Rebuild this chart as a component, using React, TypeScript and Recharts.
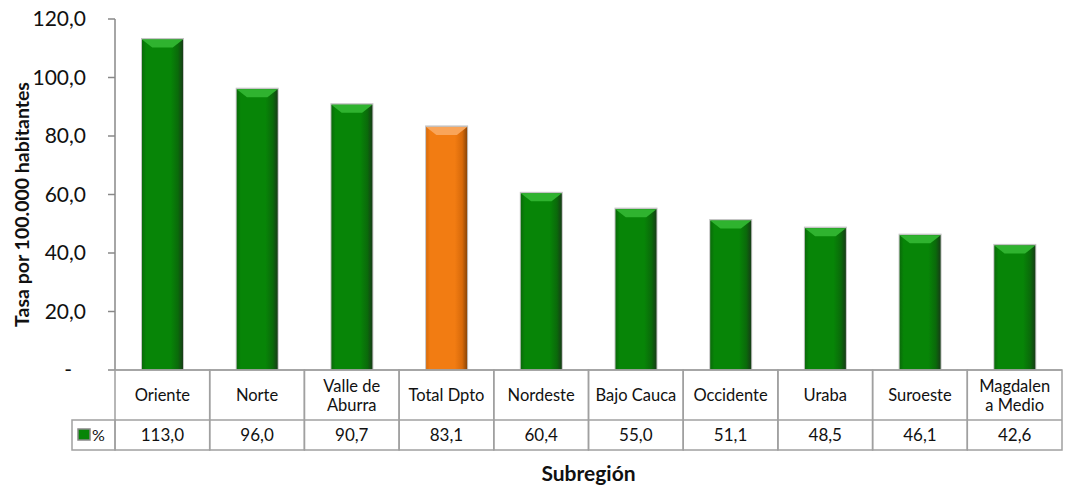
import React from 'react';
import { BarChart, Bar, XAxis, YAxis, Cell, Label } from 'recharts';

// Tasa por 100.000 habitantes por subregión
const categories = [
  'Oriente',
  'Norte',
  'Valle de\nAburra',
  'Total Dpto',
  'Nordeste',
  'Bajo Cauca',
  'Occidente',
  'Uraba',
  'Suroeste',
  'Magdalen\na Medio',
];
const rates = [113.0, 96.0, 90.7, 83.1, 60.4, 55.0, 51.1, 48.5, 46.1, 42.6];
const yTicks = [0, 20, 40, 60, 80, 100, 120];
const highlight = 'Total Dpto';

const data = categories.map((name, i) => ({ name, value: rates[i] }));

const W = 1065;
const H = 485;
const LEFT = 115;
const RIGHT = 3;
const TOP = 19;
const AXIS_H = 115;
const CELL_W = (W - LEFT - RIGHT) / categories.length;
const ROW1 = 50;
const ROW2 = 30;
const BORDER = '#a0a0a0';
const FONT = 'Lato, "Open Sans", sans-serif';

const fmt = (v: number) => v.toFixed(1).replace('.', ',');

const palette = {
  green: { dark: '#173d17', edge: '#0a6a0a', body: '#078507', light: '#2fb32f' },
  orange: { dark: '#8a4508', edge: '#d86a0a', body: '#f27c12', light: '#f9a55a' },
};

const BevelBar = (props: any) => {
  const { x, y, width, height, index, payload } = props;
  if (!height || height <= 0) return null;
  const c = payload.name === highlight ? palette.orange : palette.green;
  const id = `bev-${index}`;
  const b = Math.min(8, height);
  return (
    <g>
      <defs>
        <linearGradient id={id} x1="0" y1="0" x2="1" y2="0">
          <stop offset="0%" stopColor={c.edge} />
          <stop offset="10%" stopColor={c.body} />
          <stop offset="70%" stopColor={c.body} />
          <stop offset="88%" stopColor={c.edge} />
          <stop offset="100%" stopColor={c.dark} />
        </linearGradient>
      </defs>
      <rect x={x - 1} y={y - 1.5} width={width + 2} height={height + 1.5} fill="#c4c4c4" />
      <rect x={x} y={y} width={width} height={height} fill={`url(#${id})`} />
      <polygon
        points={`${x},${y} ${x + width},${y} ${x + width * 0.75},${y + b} ${x + width * 0.25},${y + b}`}
        fill={c.light}
      />
    </g>
  );
};

const TableTick = (props: any) => {
  const { x, y, payload } = props;
  const i = payload.index;
  const lines = String(payload.value).split('\n');
  const left = x - CELL_W / 2;
  const mid1 = y + ROW1 / 2;
  return (
    <g>
      <rect x={left} y={y} width={CELL_W} height={ROW1 + ROW2} fill="none" stroke={BORDER} strokeWidth={1.5} />
      <line x1={left} y1={y + ROW1} x2={left + CELL_W} y2={y + ROW1} stroke={BORDER} strokeWidth={1.5} />
      <text x={x} textAnchor="middle" fontFamily={FONT} fontSize={16.5} fill="#111">
        {lines.map((l, k) => (
          <tspan key={k} x={x} y={mid1 + 6 + (k - (lines.length - 1) / 2) * 19}>
            {l}
          </tspan>
        ))}
      </text>
      <text x={x} y={y + ROW1 + ROW2 / 2 + 6} textAnchor="middle" fontFamily={FONT} fontSize={17} fill="#111">
        {fmt(rates[i])}
      </text>
      {i === 0 && (
        <g>
          <rect x={72} y={y + ROW1} width={left - 72} height={ROW2} fill="none" stroke={BORDER} strokeWidth={1.5} />
          <rect x={78} y={y + ROW1 + 9} width={12} height={11} fill={palette.green.body} stroke="#888" strokeWidth={1.5} />
          <text x={92} y={y + ROW1 + ROW2 / 2 + 6} fontFamily={FONT} fontSize={16} fill="#111">
            %
          </text>
        </g>
      )}
    </g>
  );
};

const YTick = (props: any) => {
  const { x, y, payload } = props;
  const v = payload.value as number;
  return (
    <text
      x={v === 0 ? x - 14 : x}
      y={y + 7}
      textAnchor="end"
      fontFamily={FONT}
      fontSize={21}
      fill="#111"
    >
      {v === 0 ? '-' : fmt(v)}
    </text>
  );
};

const YTitle = (props: any) => {
  const { viewBox } = props;
  const cy = viewBox.y + viewBox.height / 2 + 10;
  return (
    <text
      x={21}
      y={cy}
      transform={`rotate(-90 21 ${cy})`}
      textAnchor="middle"
      dominantBaseline="central"
      fontFamily={FONT}
      fontWeight="bold"
      fontSize={19.5}
      fill="#111"
    >
      Tasa por 100.000 habitantes
    </text>
  );
};

const XTitle = (props: any) => {
  const { viewBox } = props;
  const cx = viewBox.x + viewBox.width / 2;
  return (
    <text
      x={cx}
      y={481}
      textAnchor="middle"
      fontFamily={FONT}
      fontWeight="bold"
      fontSize={21}
      fill="#111"
    >
      Subregión
    </text>
  );
};

export default function App() {
  return (
    <div style={{ position: 'absolute', left: 0, top: 0, width: W, height: H, background: '#fff' }}>
      <BarChart
        width={W}
        height={H}
        data={data}
        margin={{ top: TOP, right: RIGHT, bottom: 0, left: 0 }}
        barCategoryGap={0}
      >
        <XAxis
          dataKey="name"
          height={AXIS_H}
          interval={0}
          tickLine={false}
          tickSize={0}
          tickMargin={0}
          axisLine={{ stroke: BORDER, strokeWidth: 1.5 }}
          tick={<TableTick />}
        >
          <Label content={<XTitle />} />
        </XAxis>
        <YAxis
          width={LEFT}
          domain={[0, 120]}
          ticks={yTicks}
          interval={0}
          tickSize={7}
          tickMargin={22}
          axisLine={{ stroke: '#888', strokeWidth: 1.5 }}
          tickLine={{ stroke: '#888', strokeWidth: 1.5 }}
          tick={<YTick />}
        >
          <Label content={<YTitle />} />
        </YAxis>
        <Bar dataKey="value" barSize={41} shape={<BevelBar />} isAnimationActive={false}>
          {data.map((d, i) => (
            <Cell key={i} fill={d.name === highlight ? palette.orange.body : palette.green.body} />
          ))}
        </Bar>
      </BarChart>
    </div>
  );
}
